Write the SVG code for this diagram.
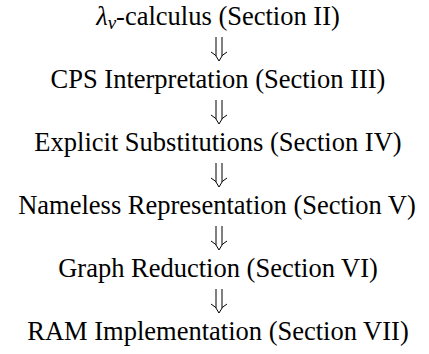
<svg xmlns="http://www.w3.org/2000/svg" width="429" height="354" viewBox="0 0 429 354">
<style>
text{font-family:'Liberation Serif','Times New Roman',Times,serif;font-size:26.5px;fill:#000;text-anchor:middle}
.a{fill:none;stroke:#000;stroke-width:1}
</style>
<defs>
<g id="dn"><path class="a" d="M-3,0 V19 M3,0 V19 M-8,15 Q-3,17 0,24 Q3,17 8,15"/></g>
</defs>
<rect width="429" height="354" fill="#fff"/>
<g id="n1"><text x="218" y="25"><tspan font-style="italic">λ</tspan><tspan font-style="italic" font-size="19" dy="4">v</tspan><tspan dy="-4">-calculus (Section II)</tspan></text></g>
<g id="n2"><text x="218" y="88">CPS Interpretation (Section III)</text></g>
<g id="n3"><text x="218" y="151">Explicit Substitutions (Section IV)</text></g>
<g id="n4"><text x="217" y="214">Nameless Representation (Section V)</text></g>
<g id="n5"><text x="218" y="277">Graph Reduction (Section VI)</text></g>
<g id="n6"><text x="218" y="340">RAM Implementation (Section VII)</text></g>
<g id="connectors">
<use href="#dn" x="219" y="37"/>
<use href="#dn" x="219" y="100"/>
<use href="#dn" x="219" y="163"/>
<use href="#dn" x="219" y="226"/>
<use href="#dn" x="219" y="289"/>
</g>
</svg>
